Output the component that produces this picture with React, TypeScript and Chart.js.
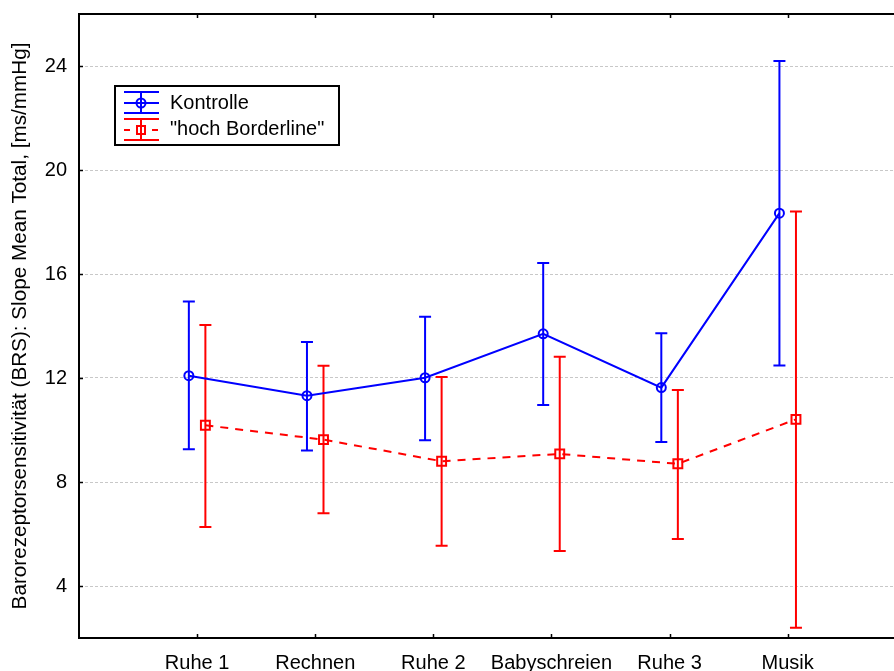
import React, { useEffect, useRef } from "react";
import { Chart, registerables } from "chart.js";

Chart.register(...registerables);

const categories = ["Ruhe 1", "Rechnen", "Ruhe 2", "Babyschreien", "Ruhe 3", "Musik"];
const yTicks = [4, 8, 12, 16, 20, 24];

const kontrolleMean = [12.09, 11.32, 12.01, 13.7, 11.63, 18.34];
const kontrolleLower = [9.26, 9.21, 9.61, 10.96, 9.54, 12.48];
const kontrolleUpper = [14.94, 13.38, 14.36, 16.42, 13.72, 24.19];

const borderMean = [10.18, 9.63, 8.8, 9.08, 8.7, 10.41];
const borderLower = [6.27, 6.8, 5.55, 5.35, 5.81, 2.39];
const borderUpper = [14.04, 12.47, 12.04, 12.82, 11.54, 18.4];

const seriesNames = ["Kontrolle", "\"hoch Borderline\""];
const yTitle = "Barorezeptorsensitivität (BRS): Slope Mean Total, [ms/mmHg]";

const BLUE = "#0000ff";
const RED = "#ff0000";
const OFFSET = 0.07;
const FONT = "'Liberation Sans', Arial, sans-serif";

const errorBarPlugin = {
  id: "errorBars",
  beforeDatasetsDraw(chart: any) {
    const { ctx, chartArea, scales } = chart;
    const xs = scales.x;
    const ys = scales.y;
    ctx.save();
    ctx.setLineDash([]);
    // frame: top line and inward ticks
    ctx.strokeStyle = "#000";
    ctx.lineWidth = 2;
    ctx.beginPath();
    ctx.moveTo(chartArea.left - 1, chartArea.top);
    ctx.lineTo(chartArea.right, chartArea.top);
    ctx.stroke();
    ctx.lineWidth = 1.5;
    ctx.beginPath();
    categories.forEach((_, i) => {
      const px = Math.round(xs.getPixelForValue(i)) + 0.5;
      ctx.moveTo(px, chartArea.top);
      ctx.lineTo(px, chartArea.top + 4);
      ctx.moveTo(px, chartArea.bottom);
      ctx.lineTo(px, chartArea.bottom - 4);
    });
    yTicks.forEach((v) => {
      const py = Math.round(ys.getPixelForValue(v)) + 0.5;
      ctx.moveTo(chartArea.left, py);
      ctx.lineTo(chartArea.left + 4, py);
    });
    ctx.stroke();

    const groups = [
      { lower: kontrolleLower, upper: kontrolleUpper, off: -OFFSET, color: BLUE },
      { lower: borderLower, upper: borderUpper, off: OFFSET, color: RED },
    ];
    ctx.lineWidth = 2;
    groups.forEach((g) => {
      ctx.strokeStyle = g.color;
      ctx.beginPath();
      g.lower.forEach((lo, i) => {
        const px = xs.getPixelForValue(i + g.off);
        const y1 = ys.getPixelForValue(lo);
        const y2 = ys.getPixelForValue(g.upper[i]);
        ctx.moveTo(px, y1);
        ctx.lineTo(px, y2);
        ctx.moveTo(px - 6, y1);
        ctx.lineTo(px + 6, y1);
        ctx.moveTo(px - 6, y2);
        ctx.lineTo(px + 6, y2);
      });
      ctx.stroke();
    });
    ctx.restore();
  },
  afterDraw(chart: any) {
    const { ctx } = chart;
    ctx.save();
    ctx.setLineDash([]);
    // legend box
    ctx.fillStyle = "#fff";
    ctx.fillRect(115, 86, 224, 59);
    ctx.strokeStyle = "#000";
    ctx.lineWidth = 2;
    ctx.strokeRect(115, 86, 224, 59);

    const rows = [
      { y: 103, ty: 103, color: BLUE, dash: false, marker: "circle" },
      { y: 130, ty: 129, color: RED, dash: true, marker: "rect" },
    ];
    rows.forEach((r, idx) => {
      ctx.strokeStyle = r.color;
      ctx.lineWidth = 2;
      ctx.beginPath();
      ctx.moveTo(124, r.y - 11);
      ctx.lineTo(159, r.y - 11);
      ctx.moveTo(124, r.y + 10);
      ctx.lineTo(159, r.y + 10);
      ctx.moveTo(141, r.y - 11);
      ctx.lineTo(141, r.y + 10);
      ctx.stroke();
      ctx.beginPath();
      if (r.dash) {
        ctx.moveTo(124, r.y);
        ctx.lineTo(130, r.y);
        ctx.moveTo(152, r.y);
        ctx.lineTo(158, r.y);
      } else {
        ctx.moveTo(124, r.y);
        ctx.lineTo(159, r.y);
      }
      ctx.stroke();
      ctx.lineWidth = 2;
      ctx.beginPath();
      if (r.marker === "circle") {
        ctx.arc(141, r.y, 4.5, 0, Math.PI * 2);
      } else {
        ctx.rect(137, r.y - 4, 8, 8);
      }
      ctx.stroke();
      ctx.fillStyle = "#000";
      ctx.font = `20px ${FONT}`;
      ctx.textBaseline = "middle";
      ctx.textAlign = "left";
      ctx.fillText(seriesNames[idx], 170, r.ty);
    });
    ctx.restore();
  },
};

export default function App() {
  const ref = useRef<HTMLCanvasElement | null>(null);

  useEffect(() => {
    if (!ref.current) return;
    Chart.defaults.font.family = FONT;
    Chart.defaults.color = "#000";
    const chart = new Chart(ref.current, {
      type: "line",
      data: {
        datasets: [
          {
            label: seriesNames[0],
            data: kontrolleMean.map((v, i) => ({ x: i - OFFSET, y: v })),
            borderColor: BLUE,
            backgroundColor: "transparent",
            borderWidth: 2,
            pointStyle: "circle",
            pointRadius: 4.5,
            pointBorderWidth: 2,
            pointBackgroundColor: "transparent",
            pointBorderColor: BLUE,
            tension: 0,
          },
          {
            label: seriesNames[1],
            data: borderMean.map((v, i) => ({ x: i + OFFSET, y: v })),
            borderColor: RED,
            backgroundColor: "transparent",
            borderWidth: 2,
            borderDash: [8, 7],
            pointStyle: "rect",
            pointRadius: 6.3,
            pointBorderWidth: 2,
            pointBackgroundColor: "transparent",
            pointBorderColor: RED,
            tension: 0,
          },
        ],
      },
      options: {
        animation: false,
        responsive: false,
        devicePixelRatio: 1,
        layout: { autoPadding: false, padding: { top: 14, right: 0, left: 0, bottom: 0 } },
        plugins: {
          legend: { display: false },
          tooltip: { enabled: false },
        },
        scales: {
          x: {
            type: "linear",
            min: -1,
            max: 5.9,
            afterBuildTicks: (axis: any) => {
              axis.ticks = categories.map((_, i) => ({ value: i }));
            },
            afterFit: (axis: any) => {
              axis.height = 33;
              axis.paddingLeft = 0;
              axis.paddingRight = 0;
            },
            ticks: {
              callback: (v: any) => categories[v] ?? "",
              font: { size: 20 },
              padding: 13,
              maxRotation: 0,
              autoSkip: false,
              color: "#000",
            },
            grid: { display: false, drawTicks: false },
            border: { color: "#000", width: 2 },
          },
          y: {
            type: "linear",
            min: 2,
            max: 26,
            afterBuildTicks: (axis: any) => {
              axis.ticks = yTicks.map((v) => ({ value: v }));
            },
            afterFit: (axis: any) => {
              axis.width = 79;
              axis.paddingTop = 0;
              axis.paddingBottom = 0;
            },
            ticks: {
              font: { size: 20 },
              padding: 12,
              color: "#000",
            },
            grid: {
              color: "#c8c8c8",
              lineWidth: 1,
              drawTicks: false,
            },
            border: { color: "#000", width: 2, dash: [3, 2] },
            title: {
              display: true,
              text: yTitle,
              font: { size: 20.7 },
              color: "#000",
              padding: { top: 8, bottom: 0 },
            },
          },
        },
      },
      plugins: [errorBarPlugin],
    } as any);
    return () => chart.destroy();
  }, []);

  return (
    <div style={{ position: "fixed", left: 0, top: 0, width: 894, height: 671, background: "#fff" }}>
      <canvas ref={ref} width={894} height={671} style={{ display: "block" }} />
    </div>
  );
}
